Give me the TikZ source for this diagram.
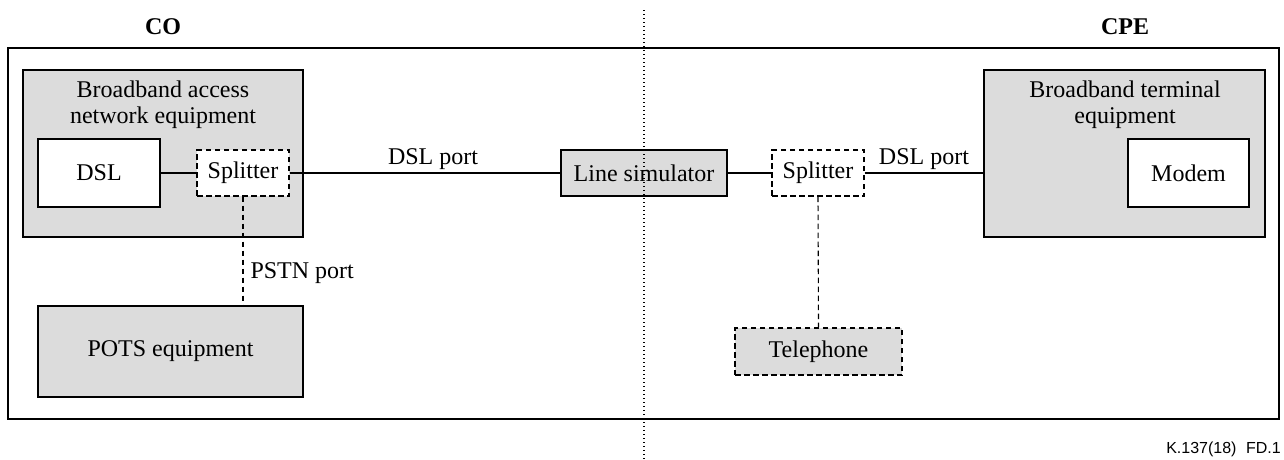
\documentclass[tikz,border=0pt]{standalone}
\usepackage{fontspec}
\setmainfont{Liberation Serif}
\newfontfamily\tagfont{Liberation Sans}
\definecolor{boxgray}{HTML}{DCDCDC}
\tikzset{
  every node/.style={font=\fontsize{24}{26}\selectfont},
  block/.style={draw, line width=1.5pt, rectangle, inner sep=0pt, align=center},
  shaded/.style={block, fill=boxgray},
  plain/.style={block, fill=white},
  dashbox/.style={draw, line width=1.2pt, dash pattern=on 5.5pt off 3.5pt, rectangle, inner sep=0pt, align=center},
  wire/.style={line width=1.1pt},
  dashwire/.style={line width=1.1pt, dash pattern=on 5.5pt off 3.5pt},
  heading/.style={font=\fontsize{24}{26}\selectfont\bfseries},
  boxtitle/.style={align=center, inner sep=0pt, anchor=north}
}
\begin{document}
\begin{tikzpicture}[x=1pt,y=-1pt]
\useasboundingbox (0,0) rectangle (1284,459);

% outer frame and side headings
\node[draw, line width=1.5pt, minimum width=1271pt, minimum height=371pt, inner sep=0pt] (frame) at (643.5,233.5) {};
\node[heading] (co) at (163,27) {CO};
\node[heading] (cpe) at (1125,27) {CPE};

% central office side
\node[shaded, minimum width=280pt, minimum height=167pt] (bae) at (163,153.5) {};
\node[boxtitle] (baetitle) at (163,81) {Broadband access\\network equipment};
\node[plain, minimum width=122pt, minimum height=68pt] (dsl) at (99,173) {DSL};
\node[dashbox, fill=white, minimum width=92pt, minimum height=46pt] (splA) at (243,173) {Splitter};
\node[shaded, minimum width=265pt, minimum height=91pt] (pots) at (170.5,351.5) {POTS equipment};

% line simulator
\node[shaded, minimum width=166pt, minimum height=46pt] (sim) at (644,173) {Line simulator};

% customer premises side
\node[dashbox, fill=white, minimum width=92pt, minimum height=46pt] (splB) at (818,173) {Splitter};
\node[dashbox, fill=boxgray, minimum width=167pt, minimum height=47pt] (tel) at (818.5,351.5) {Telephone};
\node[shaded, minimum width=281pt, minimum height=167pt] (bte) at (1124.5,153.5) {};
\node[boxtitle] (btetitle) at (1125,81) {Broadband terminal\\equipment};
\node[plain, minimum width=121pt, minimum height=68pt] (modem) at (1188.5,173) {Modem};

% connections
\draw[wire] (dsl.east) -- (splA.west);
\draw[wire] (splA.east) -- node[pos=0.53, anchor=south, inner sep=0pt, yshift=3pt] (portA) {DSL port} (sim.west);
\draw[wire] (sim.east) -- (splB.west);
\draw[wire] (splB.east) -- node[pos=0.5, anchor=south, inner sep=0pt, yshift=3pt] (portB) {DSL port} (splB.east -| bte.west);
\draw[dashwire] (splA.south) -- node[pos=0.7, anchor=west, inner sep=0pt, xshift=7pt] (pstn) {PSTN port} (splA.south |- pots.north);
\draw[dashwire] (splB.south) -- (tel.north);

% CO / CPE boundary
\coordinate (bndTop) at (644,10);
\coordinate (bndBot) at (644,459);
\draw[line width=1.2pt, dash pattern=on 1.3pt off 2.7pt] (bndTop) -- (bndBot);

% figure tag
\node[anchor=east, inner sep=0pt, font=\tagfont\fontsize{16}{18}\selectfont] (tag) at (1281,449) {K.137(18)\hspace{0.6em}FD.1};
\end{tikzpicture}
\end{document}
